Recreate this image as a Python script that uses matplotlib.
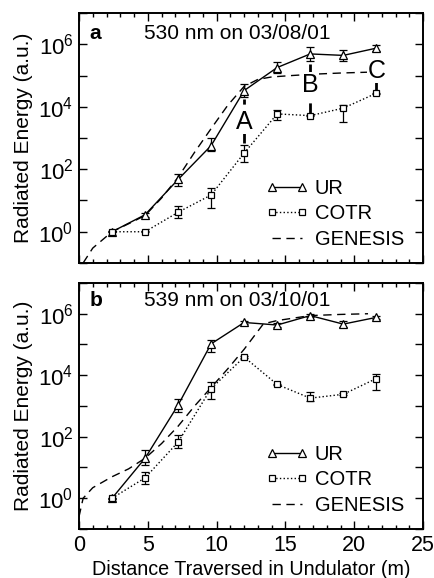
import numpy as np
import matplotlib
matplotlib.use("Agg")
import matplotlib.pyplot as plt
from matplotlib.ticker import FixedLocator, FuncFormatter, MultipleLocator

plt.rcParams['font.family'] = ['Liberation Sans', 'DejaVu Sans']
plt.rcParams['mathtext.fontset'] = 'custom'
plt.rcParams['mathtext.rm'] = 'Liberation Sans'
plt.rcParams['mathtext.it'] = 'Liberation Sans:italic'
plt.rcParams['mathtext.bf'] = 'Liberation Sans:bold'

# distance along the undulator (m)
dist = [2.4, 4.8, 7.2, 9.6, 12.0, 14.4, 16.8, 19.2, 21.6]

# panel a: 530 nm on 03/08/01
ur_a = [1.0, 3.5, 47, 570, 3.3e4, 1.8e5, 4.9e5, 4.4e5, 7.5e5]
ur_a_lo = [0.95, 3.0, 30, 390, 2.1e4, 1.2e5, 3.0e5, 2.9e5, 6.0e5]
ur_a_hi = [1.05, 4.0, 73, 1030, 5.2e4, 2.7e5, 8.0e5, 6.6e5, 9.6e5]
cotr_a = [1.0, 1.0, 4.2, 15, 330, 5900, 5200, 9000, 2.7e4]
cotr_a_lo = [0.95, 0.95, 2.7, 5.8, 166, 3900, 5000, 3300, 2.6e4]
cotr_a_hi = [1.05, 1.05, 6.6, 26, 610, 8100, 5400, 1.15e4, 2.8e4]
gen_a_x = [0.3, 1.0, 2.4, 3.6, 4.8, 6.0, 7.2, 8.4, 9.6, 10.8, 12.0, 13.0, 14.0, 15.5, 17.0, 19.0, 21.6]
gen_a_y = [0.1, 0.3, 1.0, 1.8, 3.3, 12, 55, 350, 2000, 1.1e4, 4.5e4, 7.5e4, 9e4, 1.0e5, 1.1e5, 1.2e5, 1.3e5]
marks_x = [12.0, 16.8, 21.6]
marks_lbl = ['A', 'B', 'C']

# panel b: 539 nm on 03/10/01
ur_b = [1.0, 20, 1070, 1.05e5, 5.2e5, 4.3e5, 8.7e5, 4.6e5, 7.6e5]
ur_b_lo = [0.95, 12, 650, 5.8e4, 4.5e5, 3.7e5, 7.6e5, 3.7e5, 6.8e5]
ur_b_hi = [1.05, 37, 1750, 1.44e5, 6.0e5, 5.0e5, 1.0e6, 5.7e5, 8.6e5]
cotr_b = [1.0, 4.6, 67, 3700, 3.9e4, 5000, 1800, 2400, 7800]
cotr_b_lo = [0.95, 3.0, 43, 1640, 3.6e4, 4700, 1400, 2250, 3300]
cotr_b_hi = [1.05, 6.9, 112, 6100, 4.2e4, 5300, 2950, 2550, 11300]
gen_b_x = [0.0, 0.3, 1.0, 2.4, 3.6, 4.8, 6.0, 7.2, 8.4, 9.6, 10.8, 12.0, 13.4, 14.4, 16.8, 19.0, 21.0]
gen_b_y = [0.25, 1.0, 2.2, 5.0, 9, 20, 60, 220, 1000, 4000, 1.6e4, 7e4, 4.7e5, 6e5, 8.7e5, 9.5e5, 1e6]

fig = plt.figure(figsize=(4.35, 5.78), dpi=100)
ax1 = fig.add_axes([0.1816, 0.545, 0.791, 0.4325])
ax2 = fig.add_axes([0.1816, 0.0848, 0.791, 0.4256])


def draw(ax, ur, ur_lo, ur_hi, cotr, cotr_lo, cotr_hi, gx, gy, tag, title, leg_y):
    ur = np.array(ur)
    cotr = np.array(cotr)
    l1, = ax.plot(dist, ur, '-', color='black', lw=1.0, marker='^', ms=6,
                  mfc='white', mec='black', mew=0.9, zorder=4)
    ax.errorbar(dist, ur, yerr=[ur - np.array(ur_lo), np.array(ur_hi) - ur],
                fmt='none', ecolor='black', elinewidth=0.9, capsize=3, capthick=0.9, zorder=3)
    l2, = ax.plot(dist, cotr, ':', color='black', lw=1.0, marker='s', ms=5,
                  mfc='white', mec='black', mew=0.9, zorder=4)
    ax.errorbar(dist, cotr, yerr=[cotr - np.array(cotr_lo), np.array(cotr_hi) - cotr],
                fmt='none', ecolor='black', elinewidth=0.9, capsize=3, capthick=0.9, zorder=3)
    l3, = ax.plot(gx, gy, color='black', lw=1.0, dashes=(6, 4), zorder=2)

    ax.set_xlim(0, 25)
    ax.set_ylim(1e-1, 1e7)
    ax.set_yscale('log')
    ax.yaxis.set_major_locator(FixedLocator([10.0 ** k for k in range(-1, 8)]))
    ax.yaxis.set_minor_locator(FixedLocator([]))
    ax.yaxis.set_major_formatter(FuncFormatter(
        lambda v, p: '$10^{%d}$' % round(np.log10(v)) if round(np.log10(v)) in (0, 2, 4, 6) else ''))
    ax.xaxis.set_major_locator(MultipleLocator(5))
    ax.xaxis.set_minor_locator(MultipleLocator(1))
    ax.tick_params(which='both', direction='in', top=True, right=True, width=1.0)
    ax.tick_params(which='major', length=6)
    ax.tick_params(which='minor', length=3)
    ax.tick_params(axis='y', which='major', labelsize=16, pad=4)
    ax.tick_params(axis='x', which='major', labelsize=15.5, pad=4)
    for s in ax.spines.values():
        s.set_linewidth(1.4)

    ax.set_ylabel('Radiated Energy (a.u.)', fontsize=15, labelpad=4)
    ax.text(0.03, leg_y, tag, transform=ax.transAxes, fontsize=15, fontweight='bold', va='center')
    ax.text(0.19, leg_y, title, transform=ax.transAxes, fontsize=15, va='center')

    ax.legend([l1, l2, l3], ['UR', 'COTR', 'GENESIS'], loc='lower right',
              bbox_to_anchor=(0.985, 0.0), frameon=False, fontsize=14.5, numpoints=2,
              handlelength=2.1, handletextpad=0.3, labelspacing=0.33, borderpad=0.2)


draw(ax1, ur_a, ur_a_lo, ur_a_hi, cotr_a, cotr_a_lo, cotr_a_hi, gen_a_x, gen_a_y,
     'a', '530 nm on 03/08/01', 0.92)
draw(ax2, ur_b, ur_b_lo, ur_b_hi, cotr_b, cotr_b_lo, cotr_b_hi, gen_b_x, gen_b_y,
     'b', '539 nm on 03/10/01', 0.93)

# A, B, C markers between UR and COTR in panel a
for xm, lbl in zip(marks_x, marks_lbl):
    i = dist.index(xm)
    top = ur_a_lo[i] * 0.85
    bot = cotr_a_hi[i] * 1.1
    ax1.plot([xm, xm], [bot, top], color='black', lw=2.0, dashes=(4, 3), zorder=2.5)
    ax1.text(xm, np.sqrt(ur_a[i] * cotr_a[i]), lbl, ha='center', va='center', fontsize=18,
             bbox=dict(facecolor='white', edgecolor='none', pad=0.3), zorder=2.6)

ax1.tick_params(labelbottom=False)
ax2.set_xlabel('Distance Traversed in Undulator (m)', fontsize=14.2, labelpad=3)

plt.savefig('out.png', dpi=100)
